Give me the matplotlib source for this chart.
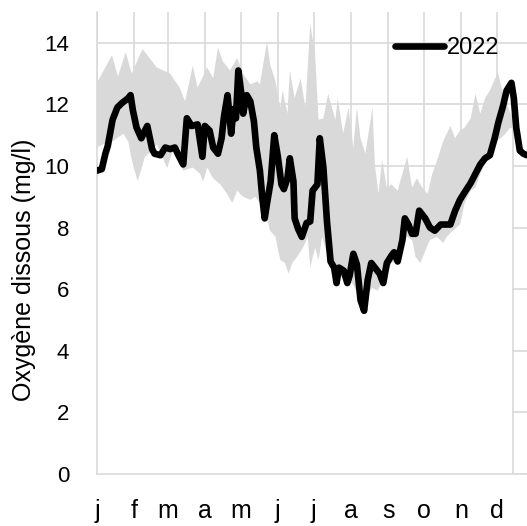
import matplotlib
matplotlib.use("Agg")
import matplotlib.pyplot as plt
import numpy as np

plt.rcParams['font.family'] = ['Liberation Sans', 'DejaVu Sans']

# mois (début de mois, jour de l'année)
mois = ['j', 'f', 'm', 'a', 'm', 'j', 'j', 'a', 's', 'o', 'n', 'd']
debut_mois = [0, 31, 59, 90, 120, 151, 181, 212, 243, 273, 304, 334]

# enveloppe historique : maximum
max_jours = [0, 12.5, 17.5, 24, 29, 38, 50, 61, 69, 73.5, 80, 84, 92, 97, 101, 105,
             111, 117, 122, 128, 134, 136, 142, 144.5, 149, 153, 155, 159, 161, 165,
             170, 174, 178, 182, 185, 189, 193, 199, 201, 205.5, 210, 214, 217, 220,
             224, 230, 232, 235, 238, 242, 246, 251, 255, 259, 263, 267, 271.5, 276,
             280, 285, 289, 295, 299, 303, 307, 312, 316, 320, 324, 328, 332.5, 335,
             339, 343, 347]
max_vals = [12.7, 13.6, 12.9, 13.7, 13.0, 13.8, 13.2, 13.0, 12.55, 12.1, 13.25, 12.55,
            13.2, 12.85, 13.85, 13.4, 13.1, 13.5, 13.0, 12.65, 12.75, 12.65, 14.05,
            13.3, 12.75, 11.9, 12.45, 11.7, 13.1, 12.2, 12.85, 11.9, 14.6, 13.7, 11.5,
            11.55, 12.35, 11.5, 12.2, 11.05, 11.9, 10.6, 11.9, 10.9, 10.4, 11.9, 10.05,
            9.1, 10.2, 9.3, 9.4, 9.2, 9.75, 10.3, 9.3, 9.6, 9.3, 9.1, 9.75, 10.3, 10.8,
            11.3, 10.9, 11.15, 11.25, 11.55, 12.35, 11.7, 12.2, 12.45, 12.85, 13.0,
            12.35, 11.9, 11.6]

# enveloppe historique : minimum
min_jours = [0, 5, 13, 22, 26, 29, 34, 40, 46, 50, 58.5, 63.5, 72, 80, 86, 88.5, 92,
             97, 103, 108.5, 113, 117, 122, 128, 132, 136, 142, 144.5, 149, 153, 157,
             160, 163, 167, 172, 176, 178, 182, 185, 188, 190.5, 196, 201, 207, 213,
             218, 222, 225.5, 230, 234, 238, 242, 246, 251, 255, 259, 263, 266, 270,
             274, 278, 284, 289, 292, 297, 303, 307, 312, 316, 320, 324, 328, 332.5,
             337, 341, 345, 347]
min_vals = [10.6, 10.7, 10.8, 11.05, 10.8, 10.2, 9.5, 10.3, 10.5, 10.7, 9.95, 10.5,
            9.85, 9.95, 9.75, 9.5, 9.95, 9.6, 9.4, 9.1, 8.8, 9.2, 9.0, 8.9, 9.0, 8.8,
            8.3, 7.9, 7.7, 6.95, 6.85, 6.5, 6.85, 7.05, 7.35, 7.7, 6.7, 7.35, 6.95, 7.7,
            7.35, 6.7, 6.5, 6.3, 6.2, 5.85, 5.65, 5.85, 6.05, 5.95, 6.2, 6.5, 6.85,
            6.95, 7.5, 7.7, 7.6, 7.05, 6.85, 7.25, 7.6, 7.7, 7.5, 7.7, 7.9, 8.1, 8.8,
            9.2, 9.3, 9.75, 10.05, 10.4, 10.8, 10.9, 11.05, 11.25, 11.2]

# année 2022
jours_2022 = [0, 4, 7, 9, 13, 17, 21, 26, 28, 30, 33, 37, 40, 42, 46, 48, 53, 57, 61,
              65, 68, 72, 75, 79, 84, 88, 90, 94, 97, 101, 104, 106, 109, 112, 114,
              116, 118, 121, 122, 125, 128, 131, 133, 136, 138, 140, 142, 145, 148,
              151, 154, 156, 159, 161, 164, 165, 168, 171, 175, 178, 180, 184, 186,
              189, 192, 195, 198, 200, 202, 206, 209, 211, 214, 217, 220, 223, 226,
              229, 232, 236, 239, 242, 246, 248, 251, 255, 257, 260, 263, 266, 269,
              274, 278, 282, 287, 291, 295, 299, 303, 307, 312, 316, 320, 324, 328,
              332, 335, 339, 342, 346, 348, 350, 353, 356, 359]
vals_2022 = [9.85, 9.9, 10.4, 10.65, 11.5, 11.9, 12.05, 12.2, 12.3, 11.8, 11.25, 10.9,
             11.15, 11.3, 10.55, 10.4, 10.35, 10.6, 10.55, 10.6, 10.35, 10.05, 11.55,
             11.3, 11.35, 10.3, 11.3, 11.15, 10.6, 10.4, 10.9, 11.6, 12.3, 11.05,
             11.85, 11.55, 13.1, 12.2, 11.7, 12.3, 12.1, 11.45, 10.6, 9.85, 8.98, 8.3,
             8.8, 9.5, 11.0, 10.3, 9.4, 9.25, 9.6, 10.25, 9.5, 8.3, 7.95, 7.7, 8.15,
             8.2, 9.2, 9.4, 10.9, 9.95, 8.2, 6.9, 6.7, 6.2, 6.7, 6.6, 6.2, 6.45, 7.15,
             6.8, 5.65, 5.3, 6.3, 6.85, 6.7, 6.5, 6.2, 6.85, 7.1, 7.2, 6.9, 7.6, 8.3,
             8.1, 7.8, 7.8, 8.55, 8.3, 8.0, 7.9, 8.1, 8.1, 8.1, 8.55, 8.9, 9.15, 9.45,
             9.75, 10.05, 10.25, 10.35, 10.9, 11.4, 11.95, 12.45, 12.7, 12.2, 11.25,
             10.5, 10.4, 10.35]

gris = '#d9d9d9'

fig = plt.figure(figsize=(5.27, 5.26), dpi=100)
ax = fig.add_axes([97 / 527, 1 - 474 / 526, 430 / 527, 462 / 526])

# fond blanc sous le minimum (cache la grille)
ax.fill(np.concatenate([min_jours, [min_jours[-1], min_jours[0]]]),
        np.concatenate([min_vals, [0, 0]]), color='white', zorder=1, lw=0)
ax.plot([min_jours[-1], min_jours[-1]], [0, min_vals[-1]], color=gris, lw=1.2, zorder=1.2)

# bande min-max
ax.fill(np.concatenate([max_jours, min_jours[::-1]]),
        np.concatenate([max_vals, min_vals[::-1]]), color=gris, lw=0, zorder=1.5)

ax.plot(jours_2022, vals_2022, color='black', lw=4.8, solid_capstyle='round',
        solid_joinstyle='round', zorder=3, label='2022')

ax.set_xlim(0, 359)
ax.set_ylim(0, 15)
ax.set_yticks(np.arange(0, 15, 2))
ax.set_xticks(debut_mois)
ax.set_xticklabels(mois, fontsize=18)
ax.tick_params(axis='y', labelsize=16, length=0, pad=20)
ax.tick_params(axis='x', length=0, pad=18)

ax.set_axisbelow(True)
ax.grid(True, color=gris, lw=1.2)
for s in ['top', 'right']:
    ax.spines[s].set_visible(False)
for s in ['left', 'bottom']:
    ax.spines[s].set_color(gris)
    ax.spines[s].set_linewidth(1.2)

fig.text(24 / 527, 1 - 270 / 526, 'Oxygène dissous (mg/l)', rotation=90,
         ha='center', va='center', fontsize=18)

leg = ax.legend(loc='upper right', bbox_to_anchor=(0.935, 0.945), frameon=False,
                fontsize=17, handlelength=2.1, handletextpad=0.1, borderpad=0,
                borderaxespad=0)

fig.savefig('out.png', dpi=100)
